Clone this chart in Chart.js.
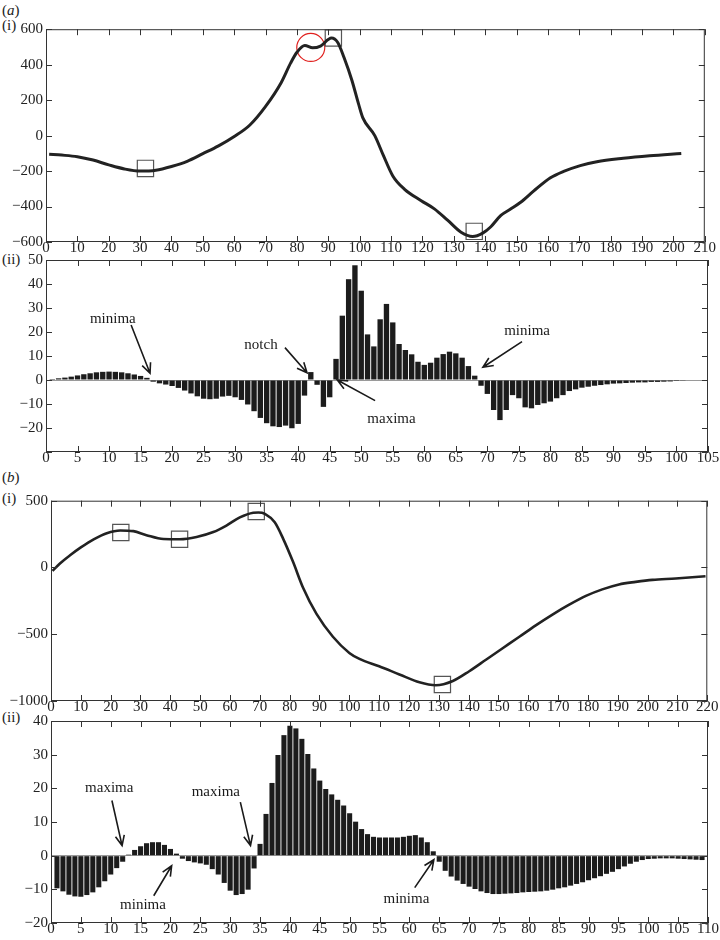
<!DOCTYPE html>
<html>
<head>
<meta charset="utf-8">
<script src="https://cdn.jsdelivr.net/npm/chart.js@4.4.1/dist/chart.umd.min.js"></script>
<style>
	html, body { margin: 0; padding: 0; background: #fff; width: 720px; height: 940px; overflow: hidden; }
	canvas { position: absolute; left: 0; }
	.tag { position: absolute; left: 2px; font: 15px 'Liberation Serif', serif; color: #222; line-height: 18px; }
</style>
</head>
<body>
<div class="tag" style="top:1px">(<i>a</i>)</div>
<div class="tag" style="top:16px">(i)</div>
<div class="tag" style="top:250px">(ii)</div>
<div class="tag" style="top:468px">(<i>b</i>)</div>
<div class="tag" style="top:489px">(i)</div>
<div class="tag" style="top:708px">(ii)</div>
<canvas id="a1"></canvas>
<canvas id="a2"></canvas>
<canvas id="b1"></canvas>
<canvas id="b2"></canvas>
<script>
// (a)(i) curve
const a1X = [1, 5, 10, 15, 20, 25, 30, 35, 40, 45, 50, 55, 60, 65, 70, 75, 78, 80, 82.5, 85, 87.5, 91, 93, 95, 97.5, 99.6, 101, 104.8, 107.5, 110.6, 114.3, 119.6, 123.8, 128, 132.3, 136, 139.2, 141.8, 145, 148.2, 151.3, 155.5, 160.8, 165, 170.3, 175.6, 184, 192.4, 202.5];
const a1Y = [-105, -110, -119, -138, -165, -188, -200, -195, -174, -145, -102, -58, -5, 60, 165, 300, 410, 470, 508, 495, 505, 550, 525, 440, 312, 180, 100, 0, -110, -229, -303, -367, -413, -477, -545, -569, -550, -514, -450, -413, -376, -312, -238, -202, -169, -147, -128, -114, -101];
const a1BoxX = [31.7, 91.6, 136.5];
const a1BoxY = [-185, 550, -540];
const a1CircleX = [84.4];
const a1CircleY = [497];

// (a)(ii) bars, one per sample from 1
const a2Values = [
	0.4, 0.7, 1.0, 1.4, 1.9, 2.4, 2.8, 3.2, 3.4, 3.5,
	3.4, 3.2, 2.8, 2.3, 1.7, 0.9, -0.7, -1.4, -1.9, -2.5,
	-3.3, -4.4, -5.6, -6.8, -7.8, -8.0, -7.8, -6.9, -6.6, -7.2,
	-8.3, -10.2, -13.0, -15.8, -18.0, -19.3, -19.6, -19.0, -20.1, -18.3,
	-6.5, 3.3, -2.0, -11.2, -7.2, 8.8, 26.8, 42.0, 47.8, 37.2,
	19.0, 14.0, 25.3, 31.7, 24.0, 15.0, 12.5, 10.7, 7.6, 6.3,
	7.2, 9.3, 10.8, 11.8, 11.1, 9.3, 5.8, 1.8, -2.4, -5.8,
	-12.5, -16.7, -12.5, -6.3, -7.6, -11.4, -11.8, -10.4, -9.7, -9.0,
	-7.6, -6.3, -4.6, -3.9, -3.2, -2.8, -2.4, -2.1, -1.8, -1.5,
	-1.4, -1.25, -1.1, -1.0, -1.0, -0.8, -0.8, -0.7, -0.6, -0.4,
	-0.3
];

// (b)(i) curve
const b1X = [0.5, 3, 6.5, 10, 14.3, 18.7, 23.2, 27.6, 32, 37.7, 43.2, 48.8, 54.4, 58.8, 63.3, 67.8, 69.5, 71.7, 75, 77.8, 81.1, 84.5, 89, 94.5, 100, 103.4, 110, 116.8, 123.5, 129, 134.7, 140.2, 145.8, 151.4, 157, 162.5, 168.1, 173.7, 179.3, 184.8, 190.4, 196, 201.6, 209.4, 219.4];
const b1Y = [-25, 30, 93, 150, 211, 257, 277, 272, 242, 213, 211, 228, 265, 314, 375, 410, 412, 402, 338, 216, 44, -152, -348, -519, -640, -685, -740, -801, -860, -882, -850, -777, -691, -605, -519, -434, -353, -279, -213, -164, -127, -108, -93, -83, -66];
const b1BoxX = [23.4, 43.1, 68.8, 131.2];
const b1BoxY = [262, 211, 419, -877];

// (b)(ii) bars, one per sample from 1
const b2Values = [
	-9.7, -10.6, -11.6, -12.1, -12.2, -11.7, -10.9, -9.4, -7.6, -5.6,
	-3.7, -1.8, 0.3, 1.7, 2.8, 3.7, 4.0, 4.0, 3.2, 2.0,
	0.6, -0.9, -1.6, -2.0, -2.3, -2.7, -4.0, -5.6, -8.1, -10.4,
	-11.7, -11.4, -10.1, -3.8, 3.5, 12.4, 21.6, 29.9, 35.8, 38.6,
	37.8, 34.7, 30.2, 25.9, 22.3, 19.8, 18.2, 16.6, 14.9, 12.6,
	10.1, 7.9, 6.4, 5.6, 5.4, 5.4, 5.4, 5.4, 5.6, 5.9,
	6.1, 5.4, 4.0, 1.3, -1.8, -4.5, -6.2, -7.4, -8.4, -9.2,
	-9.9, -10.6, -11.1, -11.4, -11.4, -11.3, -11.2, -11.1, -10.9, -10.8,
	-10.7, -10.6, -10.4, -10.1, -9.7, -9.4, -8.9, -8.4, -7.9, -7.3,
	-6.7, -6.1, -5.4, -4.8, -4.0, -3.2, -2.4, -1.8, -1.3, -1.0,
	-0.9, -0.8, -0.8, -0.8, -0.9, -1.0, -1.1, -1.2, -1.3
];

// annotations: text position, arrow start, arrow tip (data units)
const a2Notes = [
	{ text: 'minima', tx: 10.6, ty: 25.4, x1: 13.5, y1: 22.9, x2: 16.5, y2: 2.8 },
	{ text: 'notch', tx: 34.1, ty: 14.6, x1: 37.9, y1: 13.5, x2: 41.4, y2: 3.0 },
	{ text: 'maxima', tx: 54.8, ty: -16.3, x1: 52.2, y1: -8.6, x2: 46.2, y2: 0 },
	{ text: 'minima', tx: 76.3, ty: 20.4, x1: 75.5, y1: 16.0, x2: 69.3, y2: 5.3 },
];
const b2Notes = [
	{ text: 'maxima', tx: 9.75, ty: 20, x1: 10.2, y1: 16.4, x2: 11.9, y2: 3.0 },
	{ text: 'minima', tx: 15.4, ty: -14.6, x1: 17.2, y1: -11.9, x2: 20.2, y2: -3.0 },
	{ text: 'maxima', tx: 27.6, ty: 18.8, x1: 31.7, y1: 15.9, x2: 33.4, y2: 3.0 },
	{ text: 'minima', tx: 59.5, ty: -12.8, x1: 60.9, y1: -9.5, x2: 64.1, y2: -1.2 },
];

Chart.defaults.font.family = "'Liberation Serif', serif";
Chart.defaults.font.size = 15;
Chart.defaults.color = '#222';

const minus = (v) => String(v).replace('-', '\u2212');
const pts = (xs, ys) => xs.map((x, i) => ({ x: x, y: ys[i] }));
const bars = (vals) => vals.map((v, i) => ({ x: i + 1, y: v }));

// box with inward ticks on all four sides, plus arrow notes
const framePlugin = {
	id: 'frame',
	afterDatasetsDraw(chart, args, opts) {
		const { ctx, chartArea: a } = chart;
		const x = chart.scales.x;
		const y = chart.scales.y;
		ctx.save();
		ctx.strokeStyle = '#333';
		ctx.lineWidth = 1;
		ctx.strokeRect(a.left + 0.5, a.top + 0.5, a.right - a.left - 1, a.bottom - a.top - 1);
		ctx.beginPath();
		x.ticks.forEach((t) => {
			const px = Math.round(x.getPixelForValue(t.value)) + 0.5;
			ctx.moveTo(px, a.bottom);
			ctx.lineTo(px, a.bottom - 6);
			ctx.moveTo(px, a.top);
			ctx.lineTo(px, a.top + 6);
		});
		y.ticks.forEach((t) => {
			const py = Math.round(y.getPixelForValue(t.value)) + 0.5;
			ctx.moveTo(a.left, py);
			ctx.lineTo(a.left + 6, py);
			ctx.moveTo(a.right, py);
			ctx.lineTo(a.right - 6, py);
		});
		ctx.stroke();

		const notes = opts.notes || [];
		ctx.strokeStyle = '#1a1a1a';
		ctx.fillStyle = '#1a1a1a';
		ctx.lineWidth = 1.6;
		ctx.font = "15px 'Liberation Serif', serif";
		ctx.textAlign = 'center';
		ctx.textBaseline = 'middle';
		notes.forEach((n) => {
			ctx.fillText(n.text, x.getPixelForValue(n.tx), y.getPixelForValue(n.ty));
			const x1 = x.getPixelForValue(n.x1);
			const y1 = y.getPixelForValue(n.y1);
			const x2 = x.getPixelForValue(n.x2);
			const y2 = y.getPixelForValue(n.y2);
			const ang = Math.atan2(y2 - y1, x2 - x1);
			const L = 11;
			const s = 0.42;
			ctx.beginPath();
			ctx.moveTo(x1, y1);
			ctx.lineTo(x2, y2);
			ctx.moveTo(x2 - L * Math.cos(ang - s), y2 - L * Math.sin(ang - s));
			ctx.lineTo(x2, y2);
			ctx.lineTo(x2 - L * Math.cos(ang + s), y2 - L * Math.sin(ang + s));
			ctx.stroke();
		});
		ctx.restore();
	},
};

function panel(id, box, type, xs, ys, datasets, notes) {
	const padTop = 10;
	const axisH = 24;
	const canvas = document.getElementById(id);
	canvas.width = 720;
	canvas.height = box.bottom - box.top + padTop + axisH;
	canvas.style.top = box.top - padTop + 'px';
	return new Chart(canvas, {
		type: type,
		data: { datasets: datasets },
		options: {
			responsive: false,
			devicePixelRatio: 1,
			animation: false,
			events: [],
			layout: { padding: { top: padTop, right: 720 - box.right, left: 0, bottom: 0 } },
			plugins: {
				legend: { display: false },
				tooltip: { enabled: false },
				frame: { notes: notes },
			},
			scales: {
				x: {
					type: 'linear',
					min: xs.min,
					max: xs.max,
					offset: false,
					grid: { display: false, drawTicks: false, offset: false },
					border: { display: false },
					ticks: { stepSize: xs.step, autoSkip: false, maxRotation: 0, padding: -3, callback: (v) => minus(v) },
					afterFit: (s) => {
						s.height = axisH;
						s.paddingLeft = 0;
						s.paddingRight = 0;
					},
				},
				y: {
					type: 'linear',
					min: ys.min,
					max: ys.max,
					grid: {
						drawTicks: false,
						color: (c) => (ys.zeroLine && c.tick && c.tick.value === 0 ? '#9a9a9a' : 'rgba(0,0,0,0)'),
					},
					border: { display: false },
					ticks: {
						stepSize: ys.step,
						padding: 3,
						callback: (v) => (v < ys.lowest ? '' : minus(v)),
					},
					afterFit: (s) => {
						s.width = box.left;
						s.paddingTop = 0;
						s.paddingBottom = 0;
					},
				},
			},
		},
		plugins: [framePlugin],
	});
}

const curve = (data, w) => ({
	data: data,
	showLine: true,
	borderColor: '#222',
	borderWidth: w,
	pointRadius: 0,
	cubicInterpolationMode: 'monotone',
	clip: false,
});
const marks = (data, style, r, color) => ({
	data: data,
	showLine: false,
	pointStyle: style,
	pointRadius: r,
	borderColor: color,
	borderWidth: 1.2,
	backgroundColor: 'rgba(0,0,0,0)',
	clip: false,
});
const barSet = (data) => ({
	data: data,
	backgroundColor: '#1c1c1c',
	borderWidth: 0,
	barPercentage: 0.85,
	categoryPercentage: 1,
});

panel('a1', { left: 46, right: 708, top: 24, bottom: 242 }, 'scatter',
	{ min: 0, max: 210, step: 10 }, { min: -600, max: 600, step: 200, lowest: -600 },
	[curve(pts(a1X, a1Y), 3), marks(pts(a1BoxX, a1BoxY), 'rect', 11.5, '#555'), marks(pts(a1CircleX, a1CircleY), 'circle', 14, '#e0201e')], []);

panel('a2', { left: 46, right: 708, top: 260, bottom: 452 }, 'bar',
	{ min: 0, max: 105, step: 5 }, { min: -30, max: 50, step: 10, lowest: -20, zeroLine: true },
	[barSet(bars(a2Values))], a2Notes);

panel('b1', { left: 51, right: 709, top: 498, bottom: 701 }, 'scatter',
	{ min: 0, max: 220, step: 10 }, { min: -1000, max: 500, step: 500, lowest: -1000 },
	[curve(pts(b1X, b1Y), 2.6), marks(pts(b1BoxX, b1BoxY), 'rect', 11.5, '#555')], []);

panel('b2', { left: 51, right: 708, top: 721, bottom: 923 }, 'bar',
	{ min: 0, max: 110, step: 5 }, { min: -20, max: 40, step: 10, lowest: -20, zeroLine: true },
	[barSet(bars(b2Values))], b2Notes);
</script>
</body>
</html>
